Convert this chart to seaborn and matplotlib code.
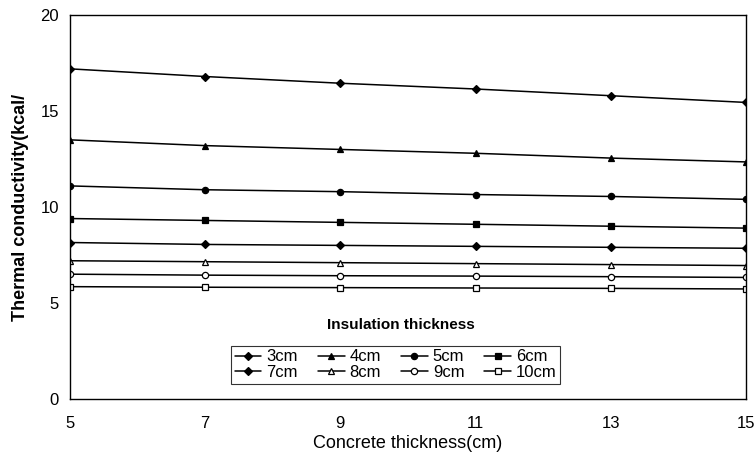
import numpy as np
import pandas as pd
import matplotlib
matplotlib.use("Agg")
import matplotlib.pyplot as plt
import seaborn as sns
from matplotlib.lines import Line2D

concrete = [5, 7, 9, 11, 13, 15]
labels = ["3cm", "4cm", "5cm", "6cm", "7cm", "8cm", "9cm", "10cm"]
k_3 = [17.2, 16.8, 16.45, 16.15, 15.8, 15.45]
k_4 = [13.5, 13.2, 13.0, 12.8, 12.55, 12.35]
k_5 = [11.1, 10.9, 10.8, 10.65, 10.55, 10.4]
k_6 = [9.4, 9.3, 9.2, 9.1, 9.0, 8.9]
k_7 = [8.15, 8.05, 8.0, 7.95, 7.9, 7.85]
k_8 = [7.2, 7.15, 7.1, 7.05, 7.0, 6.95]
k_9 = [6.5, 6.45, 6.42, 6.4, 6.37, 6.33]
k_10 = [5.85, 5.82, 5.8, 5.78, 5.76, 5.73]
series = [k_3, k_4, k_5, k_6, k_7, k_8, k_9, k_10]

# marker, filled?
styles = [("D", True), ("^", True), ("o", True), ("s", True),
          ("D", True), ("^", False), ("o", False), ("s", False)]

sns.set_style("white")
plt.rcParams['font.family'] = ['Liberation Sans', 'DejaVu Sans']
plt.rcParams['text.color'] = 'black'
plt.rcParams['axes.labelcolor'] = 'black'
plt.rcParams['xtick.color'] = 'black'
plt.rcParams['ytick.color'] = 'black'

fig = plt.figure(figsize=(7.55, 4.58), dpi=100)
ax = fig.add_axes([0.0927, 0.129, 0.8953, 0.838])

handles = []
for lab, vals, (m, filled) in zip(labels, series, styles):
    df = pd.DataFrame({"x": concrete, "y": vals})
    ms = 4.5 if m != "s" else 5
    if m == "D":
        ms = 4
    sns.lineplot(data=df, x="x", y="y", ax=ax, color="black", lw=1.1,
                 marker=m, markersize=ms, markeredgecolor="black",
                 markerfacecolor="black" if filled else "white",
                 markeredgewidth=0.9)
    handles.append(Line2D([], [], color="black", lw=1.1, marker=m, markersize=ms,
                          markeredgecolor="black", markeredgewidth=0.9,
                          markerfacecolor="black" if filled else "white", label=lab))

ax.set_xlim(5, 15)
ax.set_ylim(0, 20)
ax.set_xticks([5, 7, 9, 11, 13, 15])
ax.set_yticks([0, 5, 10, 15, 20])
ax.tick_params(direction="in", length=3, width=0.8, labelsize=12)
ax.tick_params(axis="x", pad=12)
ax.tick_params(axis="y", pad=8)
for s in ax.spines.values():
    s.set_color("black")
    s.set_linewidth(1.0)

ax.set_xlabel("Concrete thickness(cm)", fontsize=13, labelpad=3)
ax.set_ylabel("Thermal conductivity(kcal/", fontsize=13, fontweight="bold", labelpad=8)

# reorder so rows read 3,4,5,6 / 7,8,9,10
order = [0, 4, 1, 5, 2, 6, 3, 7]
leg = ax.legend([handles[i] for i in order], [labels[i] for i in order],
                ncol=4, loc="center", bbox_to_anchor=(0.482, 0.089),
                fontsize=12, frameon=True, fancybox=False, borderpad=0.2,
                labelspacing=0.05, handlelength=1.6, handletextpad=0.3,
                columnspacing=1.2, borderaxespad=0)
leg.get_frame().set_edgecolor("black")
leg.get_frame().set_linewidth(0.8)
ax.text(0.49, 0.193, "Insulation thickness", transform=ax.transAxes,
        ha="center", va="center", fontsize=11, fontweight="bold")

fig.savefig("out.png", dpi=100)
